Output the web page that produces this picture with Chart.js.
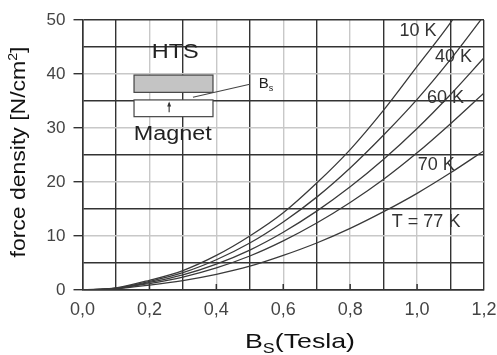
<!DOCTYPE html>
<html>
<head>
<meta charset="utf-8">
<script src="https://cdn.jsdelivr.net/npm/chart.js@4"></script>
<style>
  html, body { margin: 0; padding: 0; background: #fff; }
  #wrap { width: 497px; height: 355px; }
</style>
</head>
<body>
<div id="wrap"><canvas id="forceChart"></canvas></div>
<script>
// field B_s in Tesla
const fieldTesla = [0, 0.1, 0.2, 0.3, 0.4, 0.5, 0.6, 0.7, 0.8, 0.9, 1.0, 1.1, 1.2];
const curveLabels = ['10 K', '40 K', '60 K', '70 K', 'T = 77 K'];

// force density [N/cm2]
const force10K = [0, 0.4, 1.8, 3.6, 6.4, 10.0, 14.3, 19.8, 26.0, 33.3, 41.4, 49.5, 59.0];
const force40K = [0, 0.35, 1.6, 3.2, 5.6, 8.7, 12.6, 17.2, 22.6, 28.7, 35.3, 42.7, 50.8];
const force60K = [0, 0.3, 1.4, 2.8, 4.8, 7.4, 10.7, 14.6, 19.1, 24.2, 29.9, 36.2, 43.0];
const force70K = [0, 0.28, 1.2, 2.4, 4.1, 6.3, 9.1, 12.4, 16.2, 20.5, 25.4, 30.8, 36.5];
const force77K = [0, 0.22, 0.9, 1.75, 2.9, 4.4, 6.4, 8.7, 11.4, 14.5, 17.9, 21.7, 25.8];

const yTicks = [0, 10, 20, 30, 40, 50];

const FONT = "'Liberation Sans', Arial, sans-serif";
const DARK = '#333333';
const LIGHT = '#c8c8c8';

const allSeries = [force10K, force40K, force60K, force70K, force77K];

const datasets = allSeries.map((vals, i) => ({
    label: curveLabels[i],
    data: fieldTesla.map((b, j) => ({ x: b, y: vals[j] })),
    borderColor: '#3a3a3a',
    borderWidth: 1.3,
    pointRadius: 0,
    fill: false,
    cubicInterpolationMode: 'monotone'
}));

// draws a row of text pieces, stretched to a given width, centred on cx
function drawParts(ctx, parts, cx, baseY, targetW) {
    let w = 0;
    parts.forEach(p => {
        ctx.font = p.font;
        p.w = ctx.measureText(p.t).width;
        w += p.w;
    });
    const k = targetW ? targetW / w : 1;
    ctx.save();
    ctx.translate(cx, baseY);
    ctx.scale(k, 1);
    let xx = -w / 2;
    parts.forEach(p => {
        ctx.font = p.font;
        ctx.fillText(p.t, xx, p.dy || 0);
        xx += p.w;
    });
    ctx.restore();
}

const overlay = {
    id: 'overlay',
    afterDraw(chart) {
        const { ctx, chartArea, scales: { x, y } } = chart;
        const px = v => x.getPixelForValue(v);
        const py = v => y.getPixelForValue(v);
        ctx.save();

        // short inward ticks on the B axis
        ctx.strokeStyle = DARK;
        ctx.lineWidth = 1.5;
        x.ticks.forEach(t => {
            const n = Math.round(t.value * 10);
            if (n % 2 === 0 && n > 0 && n < 12) {
                ctx.beginPath();
                ctx.moveTo(px(t.value), chartArea.bottom);
                ctx.lineTo(px(t.value), chartArea.bottom - 6);
                ctx.stroke();
            }
        });

        // curve labels
        const labelPos = [[1.003, 47.9], [1.109, 43.2], [1.085, 35.6], [1.057, 23.2], [1.027, 12.5]];
        ctx.fillStyle = '#333';
        ctx.font = '18px ' + FONT;
        ctx.textAlign = 'center';
        ctx.textBaseline = 'middle';
        curveLabels.forEach((lab, i) => {
            ctx.fillText(lab, px(labelPos[i][0]), py(labelPos[i][1]));
        });

        // inset sketch: HTS over magnet
        ctx.textAlign = 'left';
        ctx.textBaseline = 'alphabetic';
        const l = px(0.154), r = px(0.390);
        ctx.fillStyle = '#c4c4c4';
        ctx.fillRect(l, py(39.8), r - l, py(36.6) - py(39.8));
        ctx.strokeStyle = '#444';
        ctx.lineWidth = 1.2;
        ctx.strokeRect(l, py(39.8), r - l, py(36.6) - py(39.8));
        ctx.fillStyle = '#fff';
        ctx.fillRect(l, py(35.2), r - l, py(32.1) - py(35.2));
        ctx.strokeRect(l, py(35.2), r - l, py(32.1) - py(35.2));
        // small arrow
        const ax = px(0.259);
        ctx.beginPath();
        ctx.moveTo(ax, py(32.9));
        ctx.lineTo(ax, py(34.6));
        ctx.stroke();
        ctx.fillStyle = '#333';
        ctx.beginPath();
        ctx.moveTo(ax - 2, py(34.0));
        ctx.lineTo(ax + 2, py(34.0));
        ctx.lineTo(ax, py(34.9));
        ctx.closePath();
        ctx.fill();
        // pointer line to B_s
        ctx.beginPath();
        ctx.moveTo(px(0.330), py(35.7));
        ctx.lineTo(px(0.500), py(38.1));
        ctx.stroke();

        ctx.fillStyle = '#222';
        drawParts(ctx, [{ t: 'HTS', font: '21px ' + FONT }], px(0.277), 58, 47);
        drawParts(ctx, [{ t: 'Magnet', font: '20px ' + FONT }], px(0.27), 140, 78);
        drawParts(ctx, [{ t: 'B', font: '15px ' + FONT }, { t: 's', font: '9px ' + FONT, dy: 3 }], 266, 88, 0);

        // axis titles
        ctx.fillStyle = '#111';
        drawParts(ctx, [
            { t: 'B', font: '21px ' + FONT },
            { t: 'S', font: '14px ' + FONT, dy: 5 },
            { t: '(Tesla)', font: '21px ' + FONT }
        ], 300, 348, 110);

        ctx.save();
        ctx.translate(25, 152);
        ctx.rotate(-Math.PI / 2);
        drawParts(ctx, [
            { t: 'force density [N/cm', font: '21px ' + FONT },
            { t: '2', font: '13px ' + FONT, dy: -8 },
            { t: ']', font: '21px ' + FONT }
        ], 0, 0, 211);
        ctx.restore();

        ctx.restore();
    }
};

new Chart(document.getElementById('forceChart'), {
    type: 'line',
    data: { datasets },
    options: {
        responsive: true,
        maintainAspectRatio: false,
        animation: false,
        layout: { padding: { top: 20, right: 13, left: 0, bottom: 0 } },
        plugins: {
            legend: { display: false },
            tooltip: { enabled: false }
        },
        scales: {
            x: {
                type: 'linear',
                min: 0,
                max: 1.2,
                afterFit: s => {
                    s.height = 65;
                    s.paddingLeft = 0;
                    s.paddingRight = 0;
                },
                border: { display: true, color: DARK, width: 1.5 },
                grid: {
                    drawTicks: false,
                    lineWidth: 1.4,
                    color: c => {
                        const n = Math.round(c.tick.value * 10);
                        return (n === 0 || n === 12 || n % 2 === 1) ? DARK : LIGHT;
                    }
                },
                ticks: {
                    stepSize: 0.1,
                    autoSkip: false,
                    maxRotation: 0,
                    padding: 9,
                    color: '#444',
                    font: { family: FONT, size: 18 },
                    callback: v => {
                        const n = Math.round(v * 10);
                        return n % 2 === 0 ? (n / 10).toFixed(1).replace('.', ',') : '';
                    }
                }
            },
            y: {
                min: 0,
                max: 50,
                afterFit: s => {
                    s.width = 82.5;
                    s.paddingTop = 0;
                    s.paddingBottom = 0;
                },
                border: { display: true, color: DARK, width: 1.5 },
                grid: {
                    lineWidth: 1.4,
                    tickLength: 9,
                    tickColor: c => (yTicks.includes(c.tick.value) ? DARK : 'rgba(0,0,0,0)'),
                    color: c => {
                        const v = c.tick.value;
                        return (v === 0 || v === 50 || v % 10 === 5) ? DARK : LIGHT;
                    }
                },
                ticks: {
                    stepSize: 5,
                    autoSkip: false,
                    padding: 8,
                    color: '#444',
                    font: { family: FONT, size: 17 },
                    callback: v => (yTicks.includes(v) ? String(v) : '')
                }
            }
        }
    },
    plugins: [overlay]
});
</script>
</body>
</html>
